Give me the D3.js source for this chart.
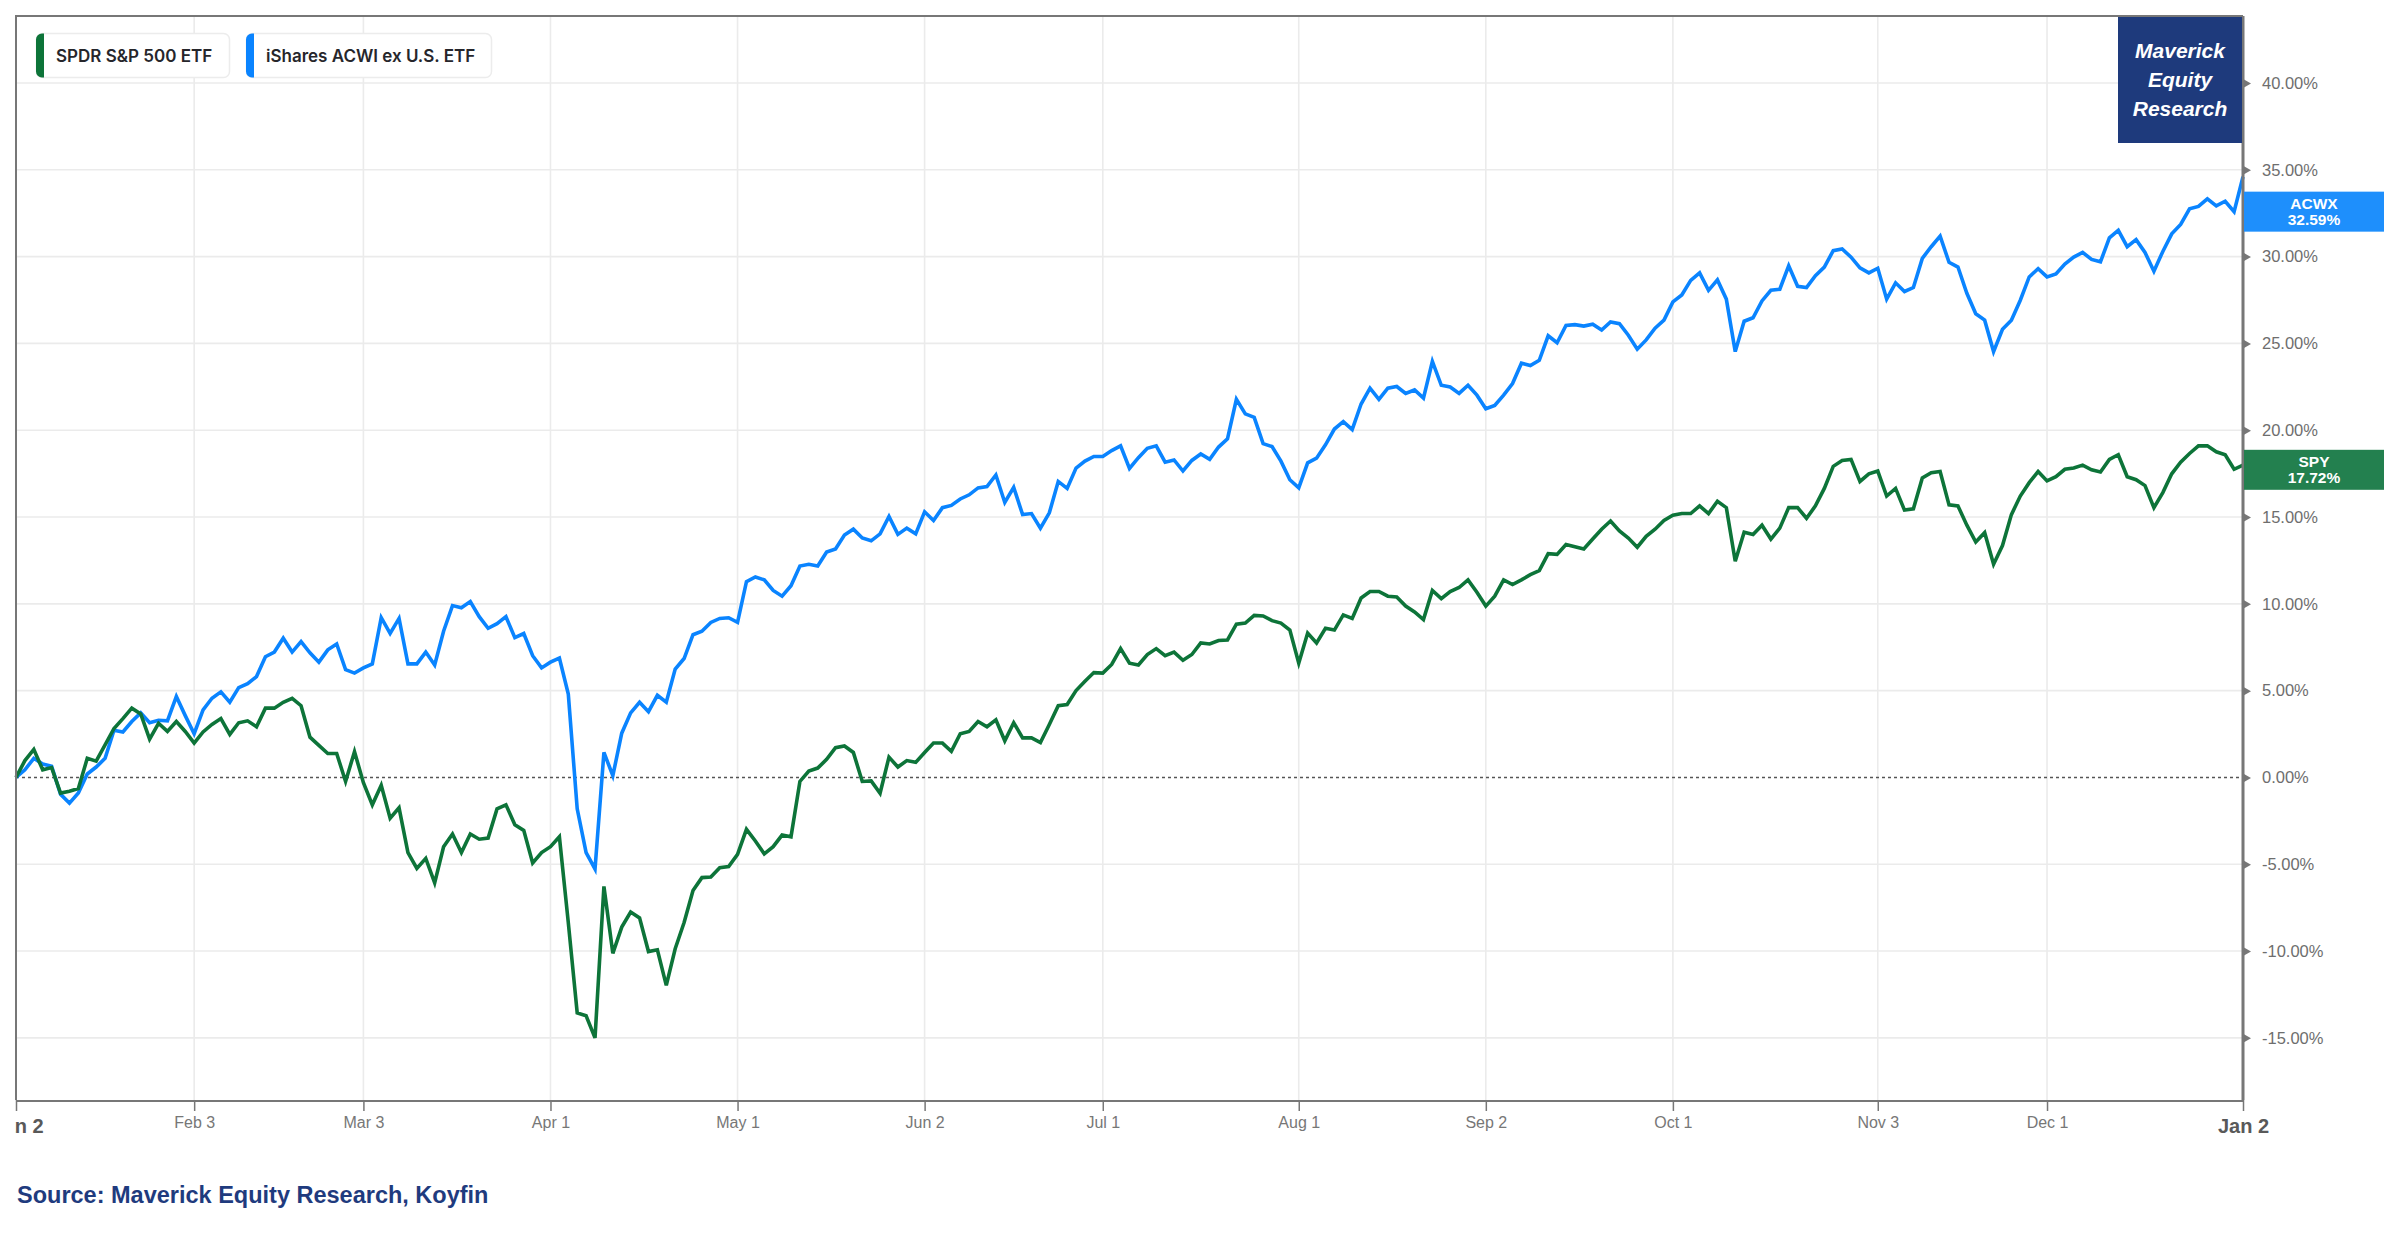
<!DOCTYPE html>
<html><head><meta charset="utf-8">
<script src="https://cdn.jsdelivr.net/npm/d3@7"></script>
<style>
html,body{margin:0;padding:0;background:#fff;}
svg{display:block;}
</style></head><body>
<svg id="chart" width="2400" height="1240"></svg>
<script>
// ---- DATA ----
const seriesNames = ["SPDR S&P 500 ETF", "iShares ACWI ex U.S. ETF"];
const seriesTickers = ["SPY", "ACWX"];
const lastLabelValues = [17.72, 32.59];
// x categories: trading-day index (0 = Jan 2 2025 ... 250 = Jan 2 2026)
const tickLabels = ["Jan 2","Feb 3","Mar 3","Apr 1","May 1","Jun 2","Jul 1","Aug 1","Sep 2","Oct 1","Nov 3","Dec 1","Jan 2"];
const tickDayIndex = [0,20,39,60,81,102,122,144,165,186,209,228,250];
const yTickValues = [-15,-10,-5,0,5,10,15,20,25,30,35,40];

const spyValues = [0,0.97,1.61,0.44,0.57,-0.9,-0.8,-0.64,1.1,0.94,1.88,2.82,3.39,3.99,3.66,2.21,3.12,2.65,3.22,2.65,
1.98,2.62,3.05,3.39,2.48,3.15,3.26,2.92,3.99,3.99,4.33,4.56,4.13,2.32,1.85,1.38,1.38,-0.23,1.48,-0.3,
-1.58,-0.45,-2.35,-1.75,-4.33,-5.24,-4.66,-6.07,-3.99,-3.26,-4.33,-3.26,-3.56,-3.49,-1.81,-1.58,-2.72,-3.05,-4.93,-4.33,
-3.99,-3.42,-8.36,-13.56,-13.73,-15.0,-6.28,-10.13,-8.62,-7.75,-8.09,-10.03,-9.93,-11.98,-9.87,-8.36,-6.51,-5.77,-5.74,-5.2,
-5.13,-4.43,-2.99,-3.66,-4.4,-3.99,-3.32,-3.42,-0.23,0.37,0.54,1.04,1.71,1.81,1.44,-0.23,-0.2,-0.91,1.17,0.6,
0.97,0.87,1.44,1.98,1.98,1.51,2.52,2.65,3.22,2.92,3.32,2.11,3.15,2.28,2.28,2.01,3.05,4.13,4.2,5.0,
5.54,6.04,6.01,6.51,7.42,6.58,6.48,7.08,7.42,7.01,7.22,6.75,7.08,7.75,7.69,7.89,7.92,8.83,8.89,9.33,
9.3,9.03,8.89,8.49,6.58,8.32,7.75,8.59,8.49,9.36,9.16,10.34,10.71,10.71,10.44,10.4,9.87,9.53,9.09,10.77,
10.3,10.71,10.94,11.38,10.67,9.87,10.44,11.38,11.11,11.38,11.68,11.91,12.89,12.85,13.42,13.29,13.16,13.73,14.3,14.77,
14.2,13.79,13.26,13.89,14.3,14.8,15.1,15.2,15.2,15.64,15.2,15.91,15.54,12.45,14.13,14.0,14.53,13.73,14.36,15.54,
15.54,14.93,15.64,16.65,17.92,18.26,18.32,17.05,17.49,17.65,16.21,16.65,15.4,15.47,17.25,17.55,17.62,15.7,15.64,14.53,
13.56,14.1,12.28,13.36,15.14,16.21,16.98,17.62,17.08,17.32,17.75,17.82,17.99,17.72,17.59,18.32,18.59,17.32,17.15,16.81,
15.54,16.41,17.49,18.16,18.66,19.1,19.1,18.76,18.59,17.75,17.99];

const acwxValues = [0,0.44,1.1,0.77,0.64,-0.97,-1.48,-0.9,0.2,0.6,1.1,2.72,2.62,3.22,3.72,3.15,3.29,3.26,4.66,3.56,
2.52,3.89,4.56,4.93,4.33,5.17,5.4,5.81,6.95,7.22,8.02,7.22,7.82,7.18,6.64,7.35,7.69,6.21,6.01,6.31,
6.54,9.2,8.3,9.16,6.54,6.54,7.22,6.48,8.42,9.9,9.77,10.13,9.26,8.59,8.86,9.26,8.05,8.29,7.01,6.31,
6.64,6.88,4.8,-1.81,-4.33,-5.27,1.44,0.1,2.55,3.72,4.33,3.79,4.73,4.33,6.24,6.85,8.22,8.42,8.93,9.16,
9.2,8.93,11.28,11.55,11.38,10.77,10.44,11.04,12.18,12.28,12.18,12.99,13.16,13.96,14.3,13.79,13.63,14.03,15.03,14.0,
14.36,14.03,15.3,14.8,15.54,15.67,16.04,16.28,16.68,16.75,17.42,15.84,16.71,15.14,15.2,14.36,15.24,17.05,16.65,17.82,
18.22,18.49,18.49,18.83,19.1,17.8,18.42,18.96,19.1,18.16,18.29,17.65,18.26,18.63,18.32,19.03,19.5,21.78,20.94,20.74,
19.23,19.06,18.22,17.15,16.68,18.12,18.39,19.16,20.07,20.5,20.04,21.51,22.42,21.78,22.42,22.52,22.12,22.32,21.85,23.96,
22.59,22.49,22.12,22.59,22.02,21.24,21.43,22.02,22.69,23.86,23.73,24.03,25.44,25.04,26.04,26.08,26.0,26.11,25.77,26.24,
26.14,25.47,24.67,25.2,25.88,26.34,27.39,27.79,28.63,29.06,28.06,28.66,27.55,24.53,26.28,26.48,27.45,28.06,28.12,29.47,
28.29,28.22,28.9,29.4,30.34,30.44,29.97,29.35,29.06,29.33,27.55,28.49,27.99,28.22,29.9,30.57,31.18,29.67,29.4,27.89,
26.71,26.34,24.53,25.81,26.34,27.49,28.83,29.3,28.83,29.0,29.57,29.97,30.24,29.84,29.7,31.08,31.51,30.57,30.98,30.24,
29.16,30.3,31.31,31.85,32.75,32.89,33.33,32.92,33.19,32.59,34.6];

// ---- LAYOUT / STYLE ----
const L = 16, R = 2243, T = 16, B = 1100;
const lineColors = ["#0d7439", "#0a84ff"];
const labelColors = ["#23804f", "#1e8ffc"];
const svg = d3.select("#chart");
const font = "'Liberation Sans', Arial, sans-serif";

const x = d3.scaleLinear().domain([0, 250]).range([L, R]);
const y = d3.scaleLinear().domain([-18.58, 43.86]).range([B, T]);

svg.append("defs").append("clipPath").attr("id", "axisClip")
  .append("rect").attr("x", 15).attr("y", 0).attr("width", 2400).attr("height", 1240);

// gridlines
const grid = svg.append("g");
grid.selectAll("line.h").data(yTickValues.filter(v => v !== 0)).join("line")
  .attr("x1", L).attr("x2", R).attr("y1", d => y(d)).attr("y2", d => y(d))
  .attr("stroke", "#ebebeb").attr("stroke-width", 1.6);
grid.selectAll("line.v").data(tickDayIndex.slice(1, -1)).join("line")
  .attr("x1", d => x(d)).attr("x2", d => x(d)).attr("y1", T).attr("y2", B)
  .attr("stroke", "#ebebeb").attr("stroke-width", 1.6);

// zero line
svg.append("line").attr("x1", L).attr("x2", R).attr("y1", y(0)).attr("y2", y(0))
  .attr("stroke", "#555").attr("stroke-width", 1.6).attr("stroke-dasharray", "3,3");

// lines
const lineGen = d3.line().x((d, i) => x(i)).y(d => y(d));
const plot = svg.append("g");
plot.append("path").datum(acwxValues).attr("d", lineGen)
  .attr("fill", "none").attr("stroke", lineColors[1]).attr("stroke-width", 3.6).attr("stroke-linejoin", "miter");
plot.append("path").datum(spyValues).attr("d", lineGen)
  .attr("fill", "none").attr("stroke", lineColors[0]).attr("stroke-width", 3.6).attr("stroke-linejoin", "miter");

// plot frame
svg.append("path").attr("d", `M${L},${B}V${T}H${R}`).attr("fill", "none").attr("stroke", "#777").attr("stroke-width", 2);

// x axis
const xAxis = d3.axisBottom(x).tickValues(tickDayIndex).tickFormat((d, i) => tickLabels[i]).tickSize(11).tickSizeOuter(0);
const gx = svg.append("g").attr("transform", `translate(0,${B})`).attr("clip-path", "url(#axisClip)").call(xAxis);
gx.select(".domain").attr("stroke", "#777").attr("stroke-width", 3);
gx.selectAll(".tick line").attr("stroke", "#777").attr("stroke-width", 1.5);
gx.selectAll(".tick text").attr("font-family", font).attr("fill", "#777").attr("font-size", 16)
  .attr("y", 28).attr("dy", 0)
  .filter((d, i) => i === 0 || i === tickLabels.length - 1)
  .attr("font-size", 20).attr("font-weight", "bold").attr("fill", "#595959").attr("y", 33);
gx.selectAll(".tick text").filter((d, i) => i === 0).attr("dx", 1.5);

// y axis on right
const yAxis = d3.axisRight(y).tickValues(yTickValues).tickFormat(d => d.toFixed(2) + "%").tickSize(0).tickPadding(19);
const gy = svg.append("g").attr("transform", `translate(${R},0)`).call(yAxis);
gy.select(".domain").remove();
gy.selectAll(".tick text").attr("font-family", font).attr("fill", "#6e6e6e").attr("font-size", 16.5);
gy.selectAll(".tick").append("path").attr("d", "M1,-4L8,0L1,4Z").attr("fill", "#777");
svg.append("line").attr("x1", R).attr("x2", R).attr("y1", T).attr("y2", B).attr("stroke", "#777").attr("stroke-width", 3);

// last value labels
[0, 1].forEach(k => {
  const v = lastLabelValues[k];
  const g = svg.append("g").attr("transform", `translate(${R + 1},${y(v)})`);
  g.append("rect").attr("x", 0).attr("y", -20).attr("width", 140).attr("height", 40).attr("fill", labelColors[k]);
  g.append("text").attr("x", 70).attr("y", -3).attr("text-anchor", "middle").attr("fill", "#fff")
    .attr("font-family", font).attr("font-weight", "bold").attr("font-size", 15.5).text(seriesTickers[k]);
  g.append("text").attr("x", 70).attr("y", 13).attr("text-anchor", "middle").attr("fill", "#fff")
    .attr("font-family", font).attr("font-weight", "bold").attr("font-size", 15.5).text(v.toFixed(2) + "%");
});

// logo box
const logo = svg.append("g");
logo.append("rect").attr("x", 2118).attr("y", T + 1).attr("width", R - 2118 - 1).attr("height", 126).attr("fill", "#1e3a7c");
["Maverick", "Equity", "Research"].forEach((t, i) => {
  logo.append("text").attr("x", 2180).attr("y", 58 + i * 29).attr("text-anchor", "middle")
    .attr("fill", "#fff").attr("font-family", font).attr("font-weight", "bold").attr("font-style", "italic")
    .attr("font-size", 21).text(t);
});

// legend
const legendX = [36, 246], legendW = [193, 245];
seriesNames.forEach((name, k) => {
  const g = svg.append("g").attr("transform", `translate(${legendX[k]},33)`);
  g.append("rect").attr("x", 0.5).attr("y", 0.5).attr("width", legendW[k]).attr("height", 44).attr("rx", 6)
    .attr("fill", "#fff").attr("stroke", "#ececec").attr("stroke-width", 1.5);
  g.append("path").attr("d", "M6,0.5H8V44.5H6A6,6 0 0 1 0,38.5V6.5A6,6 0 0 1 6,0.5Z").attr("fill", lineColors[k]);
  g.append("text").attr("x", 20).attr("y", 28.5).attr("font-family", "Inter, 'Noto Sans', sans-serif")
    .attr("font-weight", 600).attr("font-size", 17).attr("fill", "#26262b").text(name);
});

// source
svg.append("text").attr("x", 17).attr("y", 1203).attr("font-family", font).attr("font-weight", "bold")
  .attr("font-size", 23.5).attr("fill", "#1f3b7e").text("Source: Maverick Equity Research, Koyfin");
</script>
</body></html>
